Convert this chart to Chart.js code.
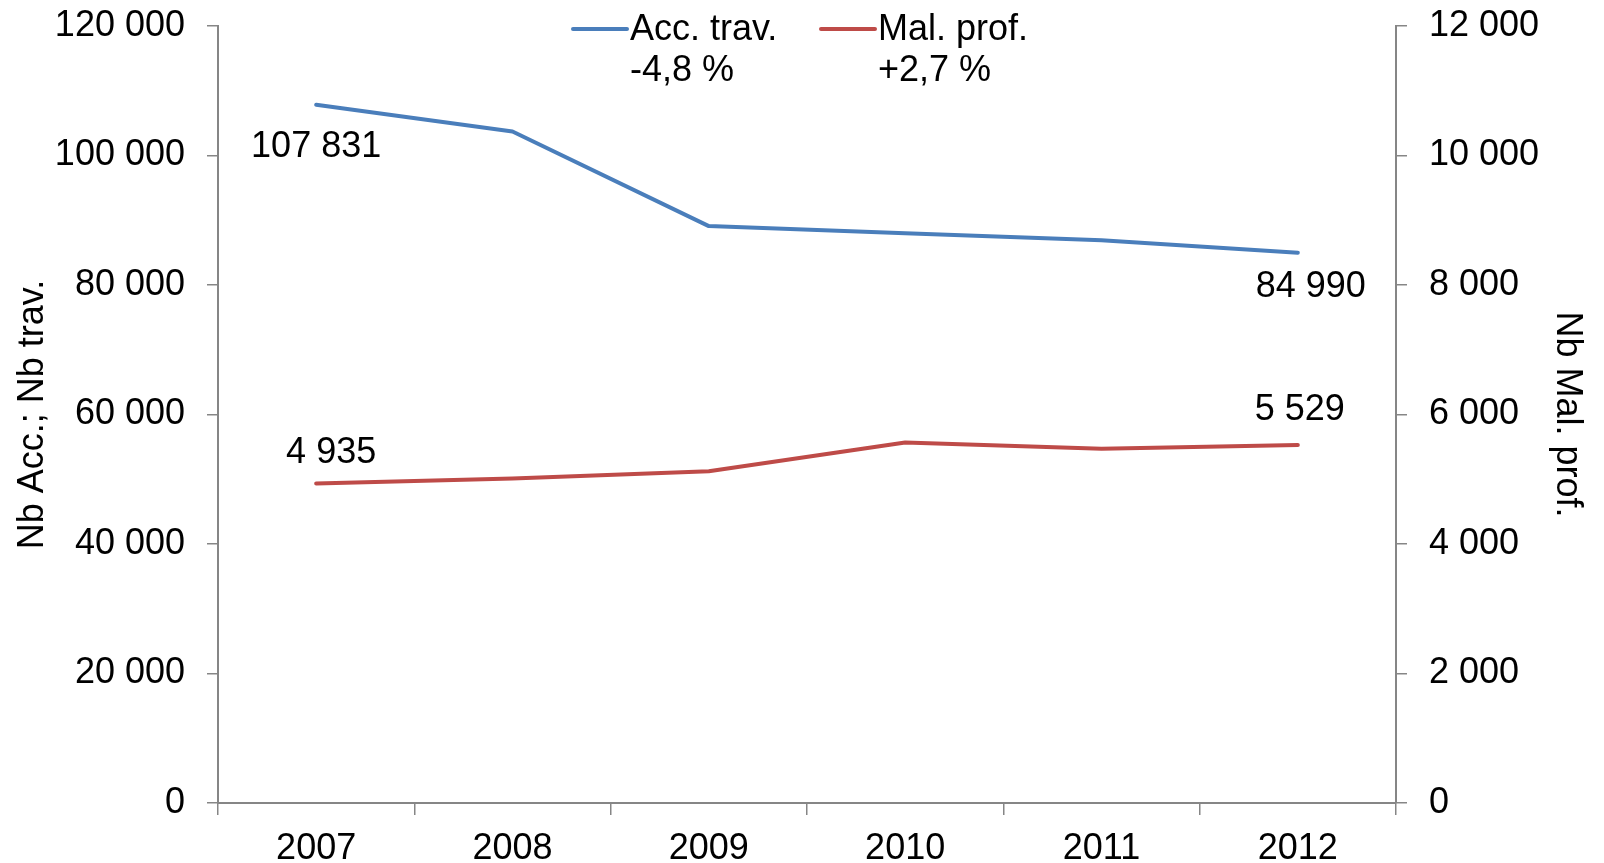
<!DOCTYPE html>
<html>
<head>
<meta charset="utf-8">
<script src="https://cdn.jsdelivr.net/npm/chart.js@4.4.0/dist/chart.umd.min.js"></script>
<style>
  html, body { margin: 0; padding: 0; background: #fff; }
</style>
</head>
<body>
<canvas id="chart" width="1604" height="863"></canvas>
<script>
// DATA
const years = ["2007", "2008", "2009", "2010", "2011", "2012"];
const accTrav = [107831, 103700, 89100, 88000, 86900, 84990];
const malProf = [4935, 5010, 5125, 5566, 5472, 5529];
const seriesNames = ["Acc. trav.", "Mal. prof."];
const seriesChange = ["-4,8 %", "+2,7 %"];

const BLUE = "#4a7ebb";
const RED = "#be4b48";
const AXIS = "#868686";
const FONT = "'Liberation Sans', Arial, sans-serif";

Chart.defaults.font.family = FONT;
Chart.defaults.font.size = 36;
Chart.defaults.color = "#000";

function fmt(v) {
  return String(v).replace(/\B(?=(\d{3})+(?!\d))/g, " ");
}

// value labels on first and last point of each line: [dataset, index, dx, dy]
const valueLabels = [
  [0, 0, 0, 42],
  [0, 5, 13, 34],
  [1, 0, 15, -30],
  [1, 5, 2, -35]
];

const labelPlugin = {
  id: "valueLabels",
  afterDatasetsDraw(chart) {
    const ctx = chart.ctx;
    ctx.save();
    ctx.font = "36px " + FONT;
    ctx.fillStyle = "#000";
    ctx.textAlign = "center";
    ctx.textBaseline = "middle";
    valueLabels.forEach(([d, i, dx, dy]) => {
      const pt = chart.getDatasetMeta(d).data[i];
      const v = chart.data.datasets[d].data[i];
      ctx.fillText(fmt(v), pt.x + dx, pt.y + dy);
    });
    ctx.restore();
  }
};

// two-line legend at the top
const legendPlugin = {
  id: "twoLineLegend",
  afterDraw(chart) {
    const ctx = chart.ctx;
    const items = [
      { x: 573, color: BLUE },
      { x: 821, color: RED }
    ];
    ctx.save();
    ctx.font = "36px " + FONT;
    ctx.fillStyle = "#000";
    ctx.textBaseline = "middle";
    ctx.textAlign = "left";
    items.forEach((it, k) => {
      ctx.strokeStyle = it.color;
      ctx.lineWidth = 4;
      ctx.lineCap = "round";
      ctx.beginPath();
      ctx.moveTo(it.x, 29);
      ctx.lineTo(it.x + 54, 29);
      ctx.stroke();
      ctx.fillText(seriesNames[k], it.x + 57, 30);
      ctx.fillText(seriesChange[k], it.x + 57, 71);
    });
    ctx.restore();
  }
};

function fixVertical(width) {
  return function (s) {
    s.width = width;
    s.paddingTop = 26;
    s.paddingBottom = 0;
  };
}

new Chart(document.getElementById("chart"), {
  type: "line",
  data: {
    labels: years,
    datasets: [
      {
        label: seriesNames[0],
        data: accTrav,
        borderColor: BLUE,
        borderWidth: 4,
        pointRadius: 0,
        borderCapStyle: "round",
        borderJoinStyle: "round",
        yAxisID: "y"
      },
      {
        label: seriesNames[1],
        data: malProf,
        borderColor: RED,
        borderWidth: 4,
        pointRadius: 0,
        borderCapStyle: "round",
        borderJoinStyle: "round",
        yAxisID: "y1"
      }
    ]
  },
  options: {
    responsive: false,
    animation: false,
    layout: { padding: 0 },
    plugins: {
      legend: { display: false },
      tooltip: { enabled: false }
    },
    scales: {
      x: {
        offset: true,
        grid: {
          offset: true,
          drawOnChartArea: false,
          drawTicks: true,
          tickLength: 12,
          color: AXIS,
          lineWidth: 1.5
        },
        border: { color: AXIS, width: 2 },
        ticks: { padding: 12, maxRotation: 0, color: "#000" },
        afterFit(s) { s.height = 60; }
      },
      y: {
        position: "left",
        min: 0,
        max: 120000,
        grid: {
          drawOnChartArea: false,
          tickLength: 11,
          color: AXIS,
          lineWidth: 1.5
        },
        border: { color: AXIS, width: 2 },
        ticks: { stepSize: 20000, padding: 22, color: "#000", callback: v => fmt(v) },
        title: {
          display: true,
          text: "Nb Acc.; Nb trav.",
          color: "#000",
          padding: { top: 11, bottom: 0 }
        },
        afterFit: fixVertical(218)
      },
      y1: {
        position: "right",
        min: 0,
        max: 12000,
        grid: {
          drawOnChartArea: false,
          tickLength: 11,
          color: AXIS,
          lineWidth: 1.5
        },
        border: { color: AXIS, width: 2 },
        ticks: { stepSize: 2000, padding: 22, color: "#000", callback: v => fmt(v) },
        title: {
          display: true,
          text: "Nb Mal. prof.",
          color: "#000",
          padding: { top: 15, bottom: 0 }
        },
        afterFit: fixVertical(208)
      }
    }
  },
  plugins: [labelPlugin, legendPlugin]
});
</script>
</body>
</html>
